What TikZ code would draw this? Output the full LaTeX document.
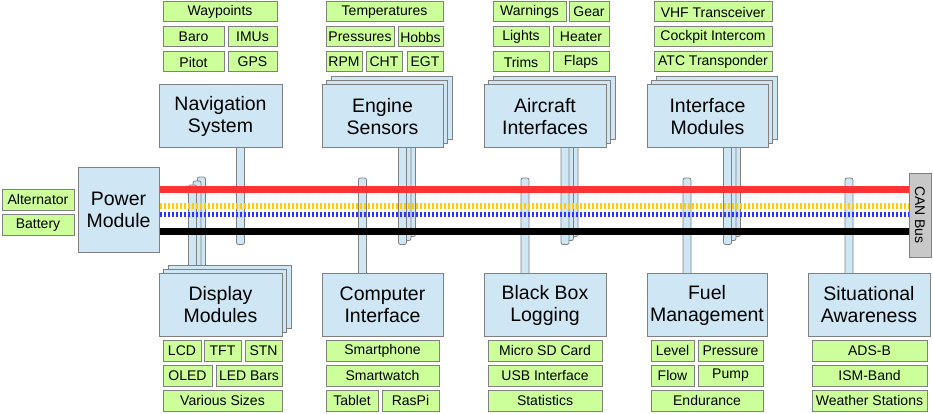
\documentclass[tikz,border=0pt]{standalone}
\usepackage{fontspec}
\setmainfont{Liberation Sans}
\usepackage{graphicx}
\usetikzlibrary{calc,backgrounds}
\definecolor{boxblue}{RGB}{207,231,245}
\definecolor{boxgreen}{RGB}{204,255,153}
\definecolor{edgegray}{RGB}{128,128,128}
\definecolor{busred}{RGB}{255,51,51}
\definecolor{busyellow}{RGB}{255,204,0}
\definecolor{busblue}{RGB}{51,51,255}
\definecolor{cangray}{RGB}{200,200,200}
\begin{document}
\begin{tikzpicture}[x=1pt,y=-1pt,
  bbox/.style={draw=edgegray,fill=boxblue,line width=1pt,inner sep=0pt,minimum height=63pt,align=center,font=\fontsize{19.5}{22}\selectfont},
  gbox/.style={draw=edgegray,fill=boxgreen,line width=1pt,inner sep=0pt,minimum height=20pt,font=\fontsize{14}{16}\selectfont},
  gboxb/.style={gbox,minimum height=21pt},
  connbar/.style={draw=edgegray,fill=boxblue,line width=0.8pt,rounded corners=2pt},
  busline/.style={line width=7pt},
  dashbus/.style={line width=5.5pt,dash pattern=on 2pt off 2pt}
]
\useasboundingbox (0,0) rectangle (933,414);

% ---------- top main boxes ----------
\node[bbox,minimum width=123pt] (nav) at (220.5,116.5) {Navigation\\System};

\foreach \k in {2,1} {
  \node[bbox,minimum width=121pt] (eng\k) at ({382.5+4.5*\k},{116.5-4*\k}) {};
}
\node[bbox,minimum width=121pt] (eng) at (382.5,116.5) {Engine\\Sensors};

\foreach \k in {2,1} {
  \node[bbox,minimum width=122pt] (acf\k) at ({545+4.5*\k},{116.5-4*\k}) {};
}
\node[bbox,minimum width=122pt] (acf) at (545,116.5) {Aircraft\\Interfaces};

\foreach \k in {2,1} {
  \node[bbox,minimum width=121pt] (ifm\k) at ({707.5+4.5*\k},{116.5-4*\k}) {};
}
\node[bbox,minimum width=121pt] (ifm) at (707.5,116.5) {Interface\\Modules};

% ---------- bottom main boxes ----------
\foreach \k in {2,1} {
  \node[bbox,minimum width=123pt] (dsp\k) at ({220.5+4.5*\k},{305-4*\k}) {};
}
\node[bbox,minimum width=123pt] (dsp) at (220.5,305) {Display\\Modules};
\node[bbox,minimum width=121pt] (cpi) at (382.5,305) {Computer\\Interface};
\node[bbox,minimum width=122pt] (bbl) at (545,305) {Black Box\\Logging};
\node[bbox,minimum width=120pt] (fuel) at (707,305) {Fuel\\Management};
\node[bbox,minimum width=122pt] (sit) at (869,305) {Situational\\Awareness};

% ---------- power module and CAN bus ----------
\node[bbox,minimum width=81pt,minimum height=84pt] (pm) at (118.5,210) {Power\\Module};
\node[draw=edgegray,fill=cangray,line width=1pt,inner sep=0pt,minimum width=22pt,minimum height=84pt,font=\fontsize{14}{16}\selectfont] (can) at (920,215) {\rotatebox{-90}{CAN Bus}};

% ---------- connector bars (behind boxes) ----------
\begin{pgfonlayer}{background}
  \fill[white] (0,0) rectangle (933,414);
  \draw[connbar] ($(nav.south)+(16,-6)$) rectangle ($(nav.south)+(24,96)$);
  \foreach \b in {eng2,eng1,eng,acf2,acf1,acf,ifm2,ifm1,ifm} {
    \draw[connbar] ($(\b.south)+(16,-6)$) rectangle ($(\b.south)+(24,96)$);
  }
  \foreach \b in {dsp2,dsp1,dsp} {
    \draw[connbar] ($(\b.north)+(-32,6)$) rectangle ($(\b.north)+(-24,-88)$);
  }
  \foreach \b in {cpi,bbl,fuel,sit} {
    \draw[connbar] ($(\b.north)+(-24,6)$) rectangle ($(\b.north)+(-16,-95)$);
  }
\end{pgfonlayer}

% ---------- bus lines ----------
\coordinate (yr) at (0,189.5);
\coordinate (yy) at (0,205.8);
\coordinate (yb) at (0,214.2);
\coordinate (yk) at (0,231.5);
\draw[busline,busred] (pm.east |- yr) -- (can.west |- yr);
\draw[dashbus,busyellow] (pm.east |- yy) -- (can.west |- yy);
\draw[dashbus,busblue,line width=5pt] (pm.east |- yb) -- (can.west |- yb);
\draw[busline,black] (pm.east |- yk) -- (can.west |- yk);

% ---------- left inputs ----------
\node[gboxb,minimum width=72pt] (alt) at (38,199.5) {Alternator};
\node[gboxb,minimum width=72pt] (bat) at (38,225) {Battery};

% ---------- top green boxes ----------
\node[gbox,minimum width=114pt] (wp) at (220,12) {Waypoints};
\node[gbox,minimum width=61pt] (baro) at (193.5,37) {Baro};
\node[gbox,minimum width=49pt] (imu) at (252.5,37) {IMUs};
\node[gbox,minimum width=61pt] (pitot) at (193.5,62) {Pitot};
\node[gbox,minimum width=49pt] (gps) at (252.5,62) {GPS};

\node[gbox,minimum width=117pt] (temp) at (384.5,12) {Temperatures};
\node[gbox,minimum width=68pt] (pres) at (360,37) {Pressures};
\node[gbox,minimum width=45pt] (hobbs) at (420.5,37) {Hobbs};
\node[gbox,minimum width=36pt] (rpm) at (344,62) {RPM};
\node[gbox,minimum width=36pt] (cht) at (384,62) {CHT};
\node[gbox,minimum width=36pt] (egt) at (425,62) {EGT};

\node[gbox,minimum width=73pt] (warn) at (529.5,12) {Warnings};
\node[gbox,minimum width=40pt] (gear) at (589,12) {Gear};
\node[gbox,minimum width=56pt] (lights) at (521,37) {Lights};
\node[gbox,minimum width=56pt] (heater) at (581,37) {Heater};
\node[gbox,minimum width=56pt] (trims) at (521,62) {Trims};
\node[gbox,minimum width=56pt] (flaps) at (581,62) {Flaps};

\node[gbox,minimum width=118pt] (vhf) at (713,12) {VHF Transceiver};
\node[gbox,minimum width=118pt] (icom) at (713,37) {Cockpit Intercom};
\node[gbox,minimum width=118pt] (atc) at (713,62) {ATC Transponder};

% ---------- bottom green boxes ----------
\node[gboxb,minimum width=38pt] (lcd) at (182,350.5) {LCD};
\node[gboxb,minimum width=37pt] (tft) at (222.5,350.5) {TFT};
\node[gboxb,minimum width=37pt] (stn) at (263.5,350.5) {STN};
\node[gboxb,minimum width=49pt] (oled) at (187.5,375.5) {OLED};
\node[gboxb,minimum width=66pt] (ledb) at (249,375.5) {LED Bars};
\node[gboxb,minimum width=119pt] (vsz) at (222.5,400.5) {Various Sizes};

\node[gboxb,minimum width=113pt] (sphone) at (382.5,350.5) {Smartphone};
\node[gboxb,minimum width=113pt] (swatch) at (382.5,375.5) {Smartwatch};
\node[gboxb,minimum width=52pt] (tablet) at (352,400.5) {Tablet};
\node[gboxb,minimum width=57pt] (raspi) at (410.5,400.5) {RasPi};

\node[gboxb,minimum width=114pt] (sd) at (545,350.5) {Micro SD Card};
\node[gboxb,minimum width=114pt] (usb) at (545,375.5) {USB Interface};
\node[gboxb,minimum width=114pt] (stats) at (545,400.5) {Statistics};

\node[gboxb,minimum width=43pt] (level) at (672.5,350.5) {Level};
\node[gboxb,minimum width=65pt] (fpres) at (730.5,350.5) {Pressure};
\node[gboxb,minimum width=43pt] (flow) at (672.5,375.5) {Flow};
\node[gboxb,minimum width=65pt] (pump) at (730.5,375.5) {Pump};
\node[gboxb,minimum width=112pt] (endur) at (707,400.5) {Endurance};

\node[gboxb,minimum width=115pt] (adsb) at (869.5,350.5) {ADS-B};
\node[gboxb,minimum width=115pt] (ism) at (869.5,375.5) {ISM-Band};
\node[gboxb,minimum width=115pt] (wx) at (869.5,400.5) {Weather Stations};
\end{tikzpicture}
\end{document}
